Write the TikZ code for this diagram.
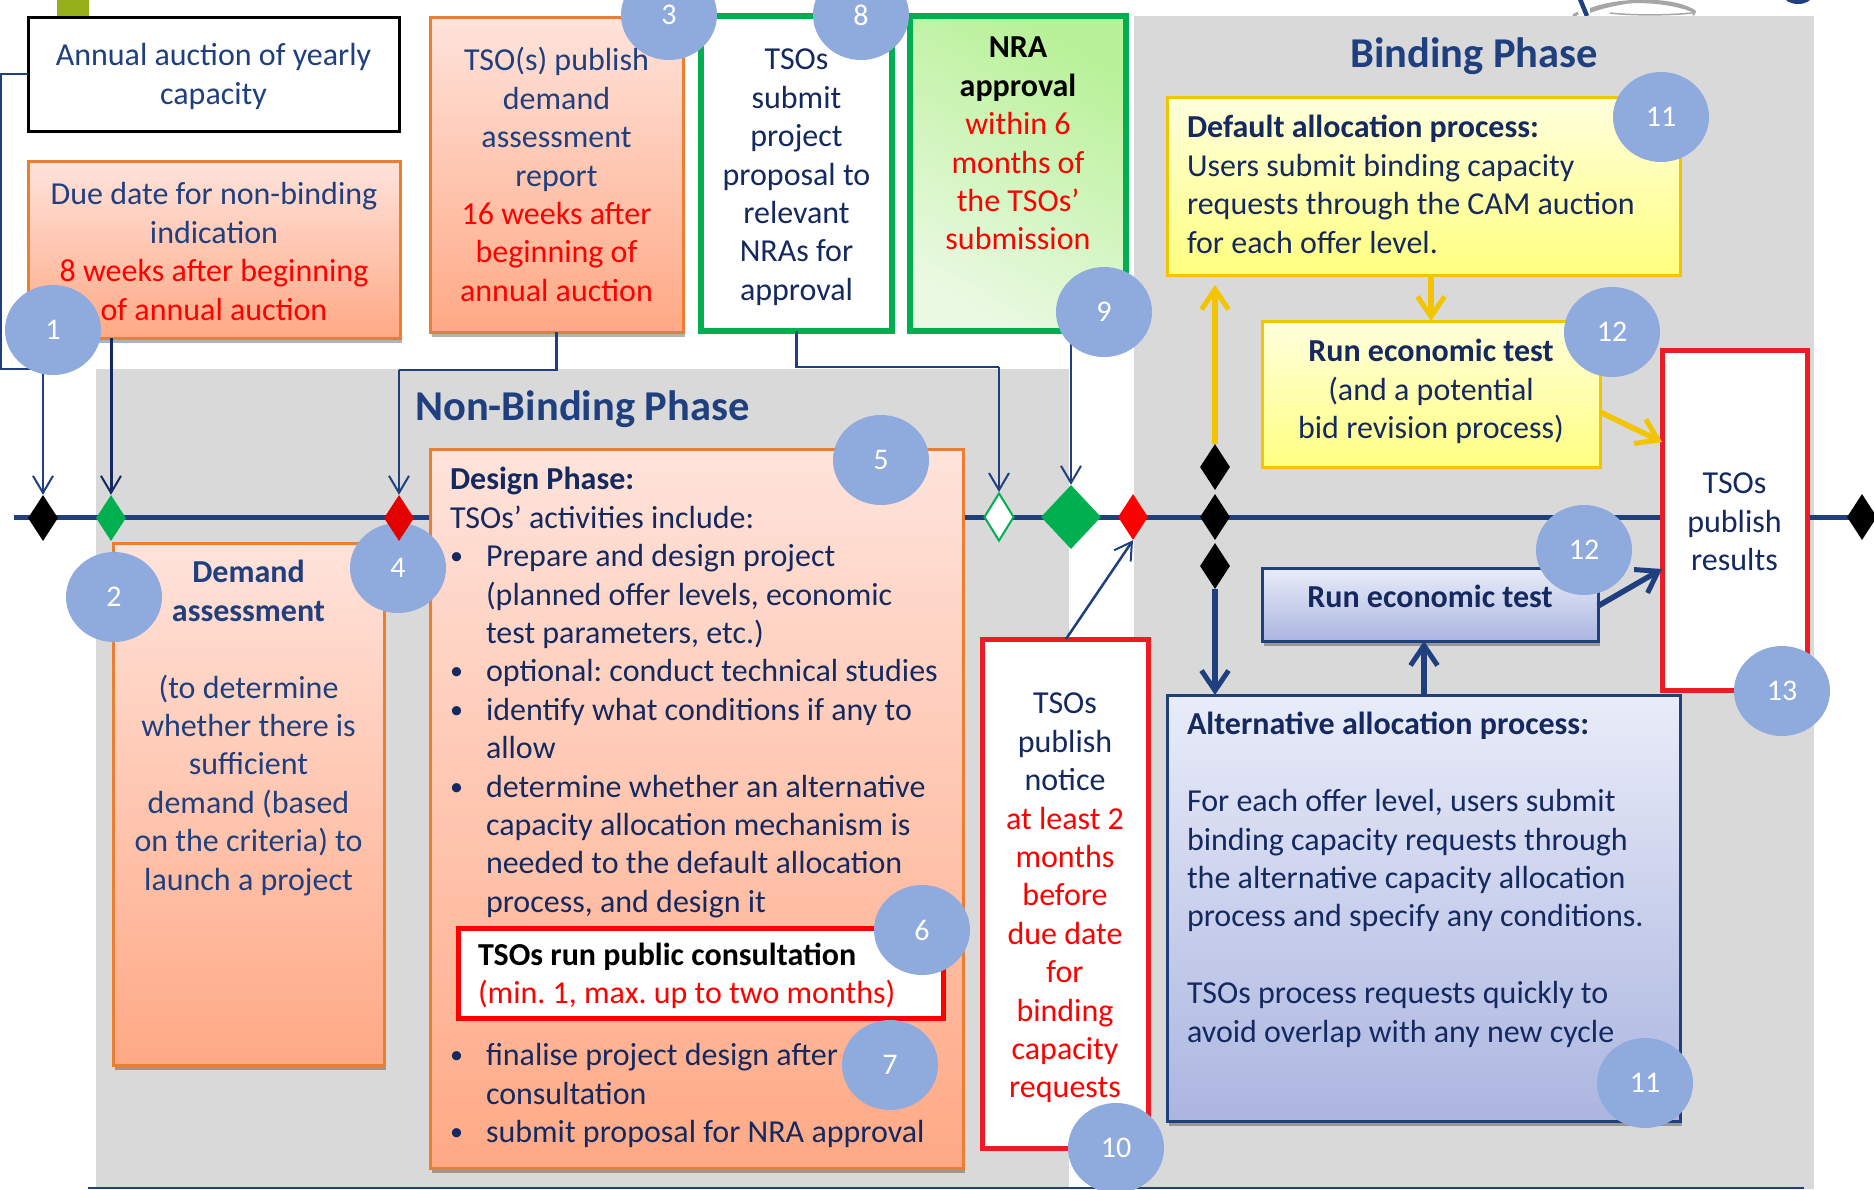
\documentclass[tikz,border=0pt]{standalone}
\usepackage{fontspec}
\setmainfont{Carlito}
\usetikzlibrary{arrows.meta,shadows,shapes.geometric}
\definecolor{navy}{HTML}{1F3F7F}
\definecolor{ink}{HTML}{14295F}
\definecolor{bubble}{HTML}{8FAADC}
\definecolor{panel}{HTML}{D9D9D9}
\definecolor{org}{HTML}{ED7D31}
\definecolor{yel}{HTML}{F2C500}
\definecolor{grn}{HTML}{00B050}
\definecolor{rd}{HTML}{ED1C24}
\definecolor{oliv}{HTML}{95B01A}
\newcommand{\bx}[4]{\parbox[c][#2pt][t]{#1pt}{\vspace*{#3pt}\vspace*{1pt}\frenchspacing\fontsize{32}{38.4}\selectfont #4}}
\newcommand{\lstart}{\leavevmode\strut}
\newcommand{\bul}{\makebox[36pt][l]{\hspace*{0pt}\fontsize{26}{26}\selectfont\raisebox{2pt}{•}}}
\newcommand{\cont}{\hspace*{36pt}}
\tikzset{
  x=1pt,y=-1pt,
  boxbase/.style={inner sep=0pt,outer sep=0pt,anchor=north west,line width=3pt},
  shad/.style={drop shadow={shadow xshift=2pt,shadow yshift=-5pt,fill=black,opacity=.3}},
  orangebox/.style={boxbase,draw=org,top color=orgtop,bottom color=orgbot,shad,text=navy},
  yellowbox/.style={boxbase,draw=yel,top color=yeltop,bottom color=yelbot,text=ink},
  bluebox/.style={boxbase,draw=navy,top color=blutop,bottom color=blubot,shad,text=ink},
  bubblenode/.style={ellipse,fill=bubble,text=white,minimum width=96pt,minimum height=90pt,inner sep=0pt,font=\fontsize{30}{32}\selectfont},
  dmd/.style={diamond,aspect=0.65,inner sep=0pt,minimum width=30pt,minimum height=46pt,draw=none},
  thin arrow/.style={navy,line width=2.5pt,-{Straight Barb[length=17pt,width=20pt,line width=2pt]}},
  yarrow/.style={yel,line width=5.5pt,-{Straight Barb[length=20pt,width=27pt,line width=5pt]}},
  barrow/.style={navy,line width=5.5pt,-{Straight Barb[length=20pt,width=27pt,line width=5pt]}},
  phase/.style={anchor=base west,inner sep=0pt,text=navy,font=\fontsize{42.5}{46}\selectfont\bfseries},
}
\definecolor{orgtop}{HTML}{FFE3DB}
\definecolor{orgbot}{HTML}{FFA985}
\definecolor{yeltop}{HTML}{FFFFDD}
\definecolor{yelbot}{HTML}{FFFF80}
\definecolor{blutop}{HTML}{E9ECF8}
\definecolor{blubot}{HTML}{ABB5E0}
\definecolor{grntop}{HTML}{B8F198}
\definecolor{grnbot}{HTML}{EAF9E2}
\begin{document}
\begin{tikzpicture}
\useasboundingbox (0,0) rectangle (1874,1189);
\fill[white] (0,0) rectangle (1874,1189);
% panels and background marks
\fill[panel] (96,369) rectangle (1069,1189);
% logo fragment
\draw[navy,line width=4.5pt] (1580,-1) -- (1587,16);
\draw[gray!70,line width=3pt] (1573,16) -- (1578,13);
\fill[gray!70] (1590,8) .. controls (1610,1) and (1630,-1) .. (1655,0) .. controls (1675,1) and (1690,6) .. (1696,11) .. controls (1696,13) and (1695,15) .. (1693,16) -- (1692,12) .. controls (1680,7) and (1660,3) .. (1635,3) .. controls (1620,4) and (1600,9) .. (1590,13) -- cycle;
\draw[gray!70,line width=1.5pt] (1610,13) .. controls (1630,15.5) and (1670,15.5) .. (1692,13);
\fill[navy] (1798,-4) ellipse (14 and 8);
\fill[panel] (1134,16) rectangle (1814,1189);
\fill[oliv] (57,0) rectangle (89,16);
\draw[navy,line width=2pt] (88,1187.5) -- (1804,1187.5);
% timeline
\coordinate (tlA) at (14,517.5);
\coordinate (tlB) at (1874,517.5);
\draw[navy,line width=5pt] (tlA) -- (tlB);
% boxes
\node[boxbase,draw=black,fill=white,text=navy,line width=3pt] (annual) at (28,17) {\bx{371}{114}{21}{\centering\lstart Annual auction of yearly\\capacity}};
\node[orangebox] (due) at (28,161) {\bx{372}{177}{16}{\centering\lstart Due date for non-binding\\indication\\\color{red}8 weeks after beginning\\of annual auction}};
\node[orangebox] (assess) at (430,17) {\bx{253}{315}{26}{\centering\lstart TSO(s) publish\\demand\\assessment\\report\\\color{red}16 weeks after\\beginning of\\annual auction}};
\node[boxbase,draw=grn,fill=white,text=ink,line width=6pt] (submit) at (701,16) {\bx{191}{315}{26}{\centering\lstart TSOs\\submit\\project\\proposal to\\relevant\\NRAs for\\approval}};
\node[boxbase,draw=grn,left color=grntop,right color=grnbot,shading angle=-30,line width=6pt,text=black] (nra) at (910,16) {\bx{216}{315}{14}{\centering\lstart\textbf{NRA}\\\textbf{approval}\\\color{red}within 6\\months of\\the TSOs’\\submission}};
% connectors
\coordinate (bendA) at (1,369);
\coordinate (dropA) at (43,369);
\coordinate (bendS) at (796,367);
\coordinate (dropS) at (999,367);
\node[dmd,fill=black] (d1) at (43,518) {};
\node[dmd,fill=grn] (d2) at (111,518) {};
\node[dmd,fill=white,draw=grn,line width=2pt,minimum width=30pt,minimum height=48pt] (d4) at (999,517) {};
\node[dmd,fill=grn,minimum width=60pt,minimum height=64pt,aspect=1] (d5) at (1071,517) {};
\node[dmd,fill=red] (d6) at (1133,517) {};
\node[dmd,fill=black] (d7) at (1215,467) {};
\node[dmd,fill=black] (d8) at (1215,517) {};
\node[dmd,fill=black] (d9) at (1215,566) {};
\node[dmd,fill=black] (d10) at (1862,517) {};
\draw[navy,line width=2.5pt] (annual.west) -| (bendA) -- (dropA);
\draw[thin arrow] (dropA) -- (d1.north);
\draw[thin arrow,line width=3pt,ink] (due.south -| d2) -- (d2.north);
\draw[navy,line width=2.5pt] (submit.south) |- (dropS);
\draw[thin arrow] (dropS) -- (d4.north);
\draw[thin arrow] (nra.south -| d5) -- (d5.north);
% middle boxes
\node[orangebox] (demand) at (113,543) {\bx{271}{522}{12}{\centering\lstart\textbf{Demand}\\\textbf{assessment}\\[38.4pt](to determine\\whether there is\\sufficient\\demand (based\\on the criteria) to\\launch a project}};
\node[orangebox] (design) at (430,449) {\hspace*{20pt}\bx{513}{719}{13}{\raggedright\lstart\textcolor{ink}{\textbf{Design Phase:}}\\\color{ink}%
TSOs’ activities include:\\
\bul Prepare and design project\\
\cont (planned offer levels, economic\\
\cont test parameters, etc.)\\
\bul optional: conduct technical studies\\
\bul identify what conditions if any to\\
\cont allow\\
\bul determine whether an alternative\\
\cont capacity allocation mechanism is\\
\cont needed to the default allocation\\
\cont process, and design it\\[115.2pt]
\bul finalise project design after\\
\cont consultation\\
\bul submit proposal for NRA approval}};
\node[boxbase,draw=red,fill=white,line width=5pt] (consult) at (458,928) {\hspace*{20pt}\bx{465}{90}{9.5}{\raggedright\lstart\textcolor{black}{\textbf{TSOs run public consultation}}\\\color{red}(min. 1, max. up to two months)}};
\node[boxbase,draw=rd,fill=white,line width=5pt,text=ink] (notice) at (982,639) {\bx{166}{509}{47}{\centering\lstart TSOs\\publish\\notice\\\color{red}at least 2\\months\\before\\due date\\for\\binding\\capacity\\requests}};
\node[yellowbox] (default) at (1167,97) {\hspace*{20pt}\bx{493}{178}{13}{\raggedright\lstart\textbf{Default allocation process:}\\Users submit binding capacity\\requests through the CAM auction\\for each offer level.}};
\node[yellowbox] (runy) at (1262,321) {\bx{338}{146}{13}{\centering\lstart\textbf{Run economic test}\\(and a potential\\bid revision process)}};
\node[bluebox] (runb) at (1262,568) {\bx{336}{73}{12}{\centering\lstart\textbf{Run economic test}}};
\node[bluebox] (alt) at (1167,695) {\hspace*{20pt}\bx{493}{426}{12}{\raggedright\lstart\textbf{Alternative allocation process:}\\[38.4pt]For each offer level, users submit\\binding capacity requests through\\the alternative capacity allocation\\process and specify any conditions.\\[38.4pt]TSOs process requests quickly to\\avoid overlap with any new cycle}};
\node[boxbase,draw=rd,fill=white,line width=5pt,text=ink] (results) at (1662,350) {\bx{145}{340}{116}{\centering\lstart TSOs\\publish\\results}};
% thick connectors
\coordinate (yTip) at (1215,285);
\draw[yarrow] (d7.north) -- (yTip);
\draw[yarrow] (default.south -| runy.north) -- (runy.north);
\draw[navy,line width=2.5pt,-{Straight Barb[length=17pt,width=20pt,line width=2pt]}] (notice.north -| 1066,0) -- (d6.south);
\draw[yarrow] (runy.east |- 0,412) -- (results.west |- 0,442);
\draw[barrow] (runb.east |- 0,606) -- (results.west |- 0,569);
\draw[barrow] (d9.south) -- (alt.north -| d9);
\draw[barrow] (alt.north -| 1424,0) -- (runb.south -| 1424,0);
% phase titles
\node[phase] (nbphase) at (415,420) {Non-Binding Phase};
\node[phase] (bphase) at (1350,67) {Binding Phase};
% bubbles
\node[bubblenode] (n1) at (53,330) {1};
\node[bubblenode] (n2) at (114,597) {2};
\node[bubblenode] (n3) at (669,15) {3};
\node[bubblenode] (n4) at (398,568) {4};
\node[bubblenode] (n5) at (881,460) {5};
\node[bubblenode] (n6) at (922,930) {6};
\node[bubblenode] (n7) at (890,1065) {7};
\node[bubblenode] (n8) at (861,15) {8};
\node[bubblenode] (n9) at (1104,312) {9};
\node[bubblenode] (n10) at (1116,1148) {10};
\node[bubblenode] (n11a) at (1661,117) {11};
\node[bubblenode] (n12a) at (1612,332) {12};
\node[bubblenode] (n12b) at (1584,550) {12};
\node[bubblenode] (n13) at (1782,691) {13};
\node[bubblenode] (n11b) at (1645,1083) {11};
% red diamond sits over bubble 4
\coordinate (dropC) at (399,370);
\node[dmd,fill=red!90!black] (d3) at (399,518) {};
\draw[navy,line width=2.5pt] (assess.south) |- (dropC);
\draw[thin arrow] (dropC) -- (d3.north);
\end{tikzpicture}
\end{document}
